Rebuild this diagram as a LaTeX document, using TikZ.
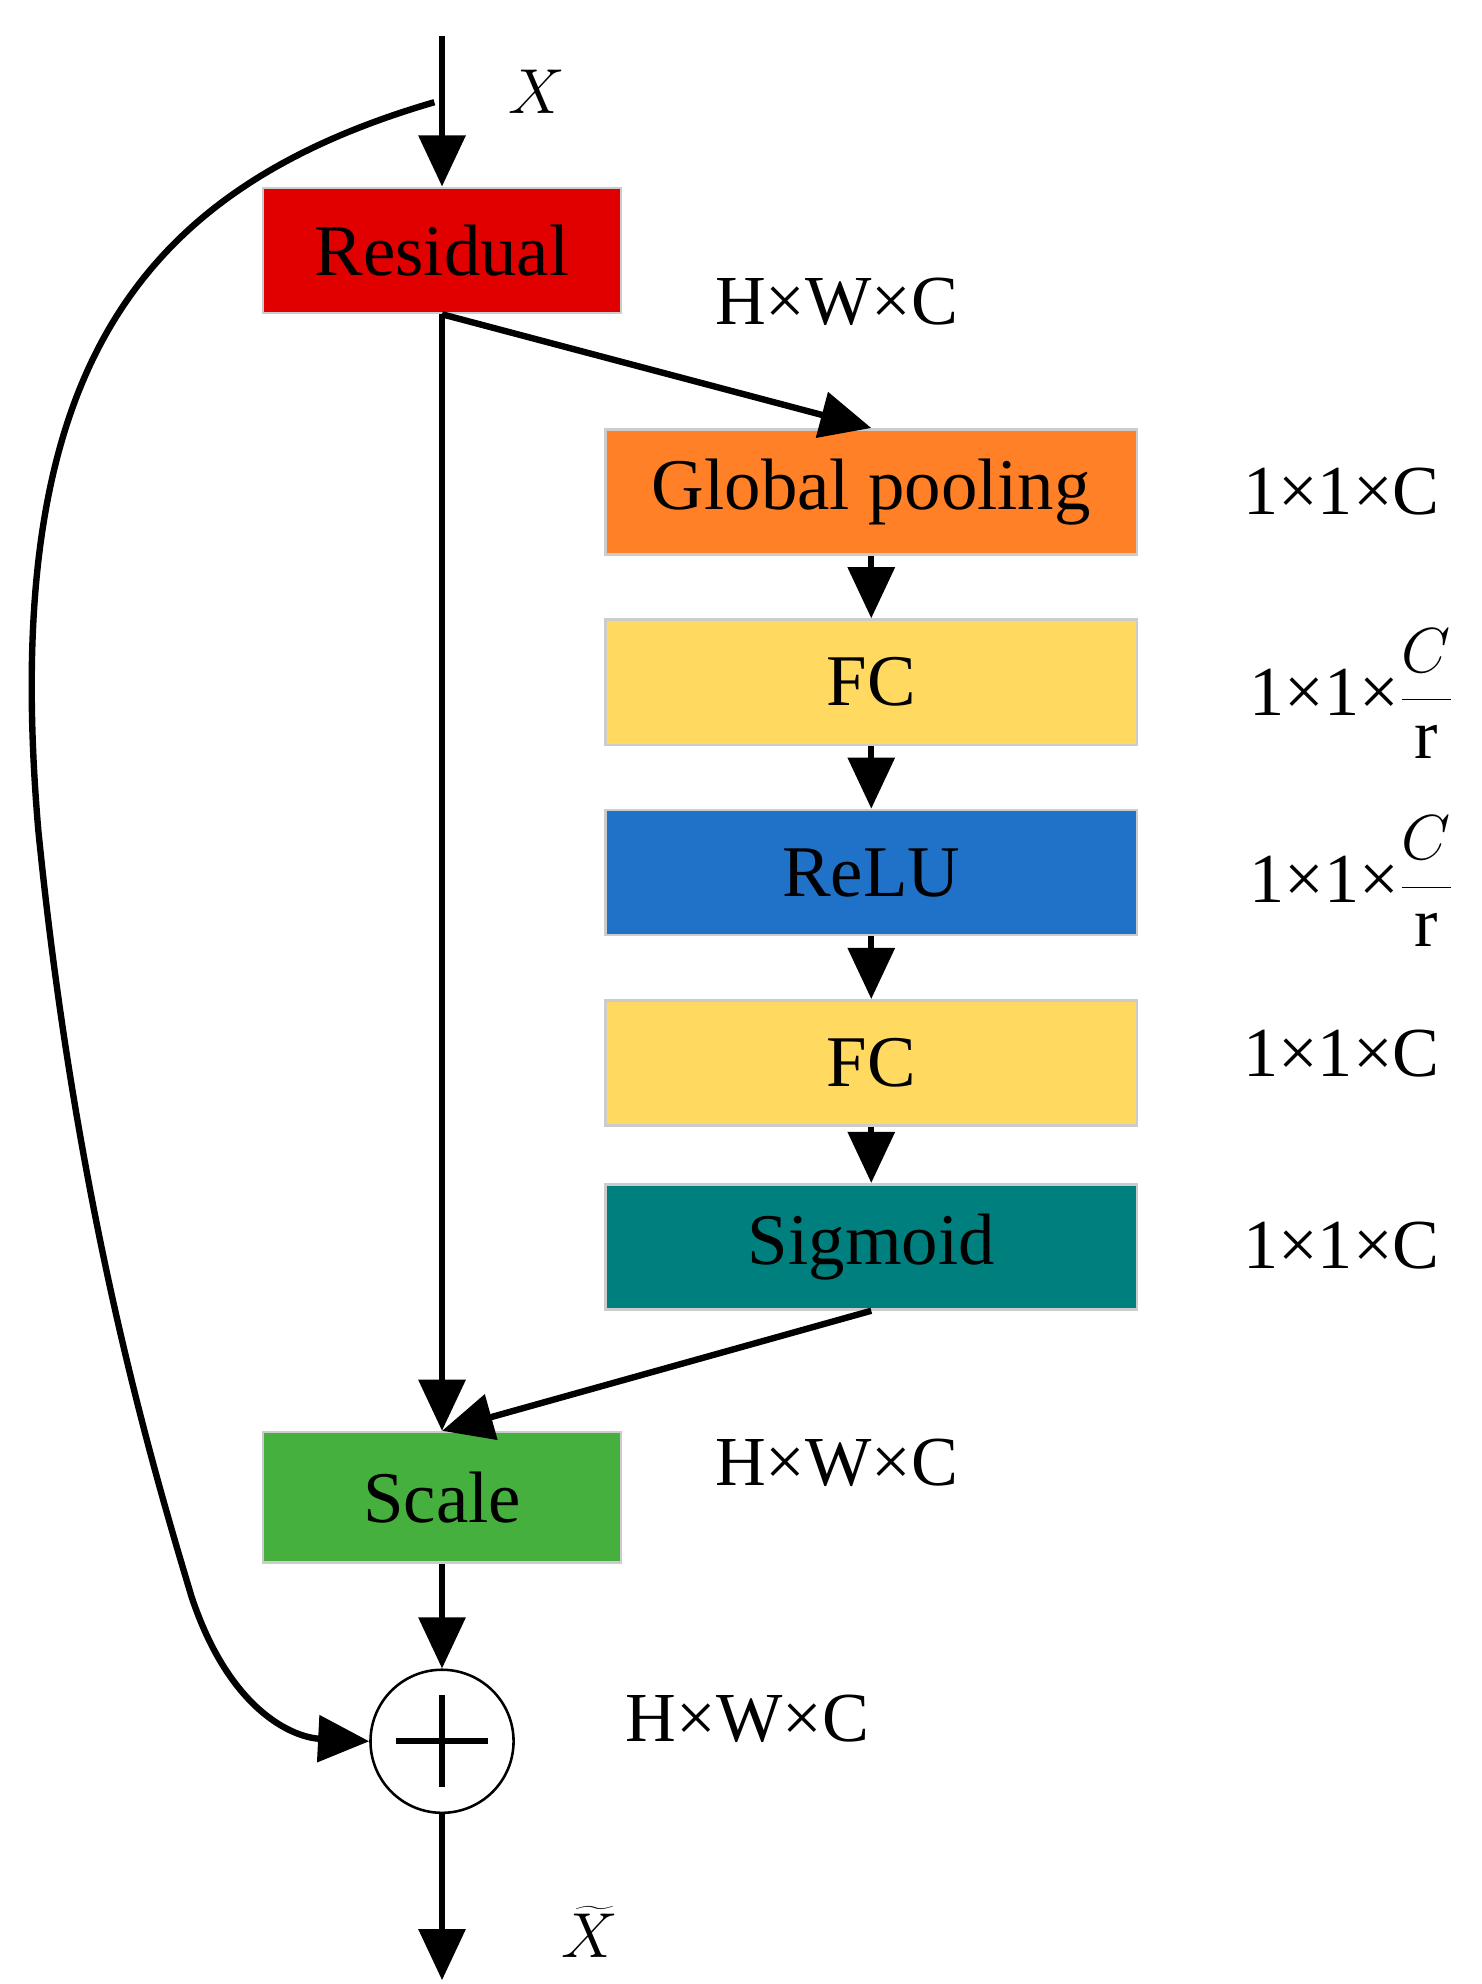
\documentclass[tikz,border=0pt]{standalone}
\usepackage{fontspec}
\setmainfont{Liberation Serif}
\usetikzlibrary{arrows.meta}
\begin{document}
\begin{tikzpicture}[x=0.5pt,y=-0.5pt,
  box/.style={draw=black!20,line width=1pt,minimum height=49pt,inner sep=0pt,font=\fontsize{28.5}{30}\selectfont},
  lbl/.style={font=\fontsize{27.5}{30}\selectfont},
  ar/.style={line width=2.5pt,-{Triangle[length=20pt,width=18pt]}},
  ln/.style={line width=2.5pt}]
\useasboundingbox (0,0) rectangle (1160,1553);
\definecolor{cred}{HTML}{E00000}
\definecolor{corange}{HTML}{FF8027}
\definecolor{cyellow}{HTML}{FFD960}
\definecolor{cblue}{HTML}{1F72C8}
\definecolor{cteal}{HTML}{007F7F}
\definecolor{cgreen}{HTML}{45B03D}
\node[box,fill=cred,minimum width=140pt] (res) at (346,196) {Residual};
\node[box,fill=corange,minimum width=208pt] (gp) at (682,385) {Global pooling};
\node[box,fill=cyellow,minimum width=208pt] (fc1) at (682,534) {FC};
\node[box,fill=cblue,minimum width=208pt] (relu) at (682,683) {ReLU};
\node[box,fill=cyellow,minimum width=208pt] (fc2) at (682,832) {FC};
\node[box,fill=cteal,minimum width=208pt] (sig) at (682,976) {Sigmoid};
\node[box,fill=cgreen,minimum width=140pt,minimum height=51pt] (sc) at (346,1172) {Scale};
\node[circle,draw,line width=1pt,minimum size=56pt,inner sep=0pt] (add) at (346,1363) {};
\draw[line width=2.5pt] (add.center) ++(-36,0) -- ++(72,0) (add.center) ++(0,-36) -- ++(0,72);
\coordinate (top) at (346,28);
\coordinate (bot) at (346,1550);
\coordinate (br) at (340,80);
\draw[ar] (top) -- (res.north);
\draw[ar] (res.south) -- (gp.north);
\draw[ar] (res.south) -- (sc.north);
\draw[ar] (gp.south) -- (fc1.north);
\draw[ar] (fc1.south) -- (relu.north);
\draw[ar] (relu.south) -- (fc2.north);
\draw[ar] (fc2.south) -- (sig.north);
\draw[ar] (sig.south) -- (sc.north);
\draw[ar] (sc.south) -- (add.north);
\draw[ar] (add.south) -- (bot);
\draw[ar] (br) .. controls (100,150) and (0,300) .. (30,650)
  .. controls (60,950) and (120,1150) .. (150,1250)
  .. controls (180,1340) and (230,1360) .. (add.west);
\node[lbl] (x) at (420,72) {$X$};
\node[lbl] (l1) at (655,236) {H×W×C};
\node[lbl] (l2) at (1050,385) {1×1×C};
\node[lbl] (l3) at (1058,543) {1×1×$\displaystyle\frac{C}{\mathrm{r}}$};
\node[lbl] (l4) at (1058,690) {1×1×$\displaystyle\frac{C}{\mathrm{r}}$};
\node[lbl] (l5) at (1050,825) {1×1×C};
\node[lbl] (l6) at (1050,975) {1×1×C};
\node[lbl] (l7) at (655,1145) {H×W×C};
\node[lbl] (l8) at (585,1345) {H×W×C};
\node[font=\fontsize{33}{36}\selectfont,inner sep=1pt] (xt) at (462,1512) {$\widetilde{X}$};
\end{tikzpicture}
\end{document}
